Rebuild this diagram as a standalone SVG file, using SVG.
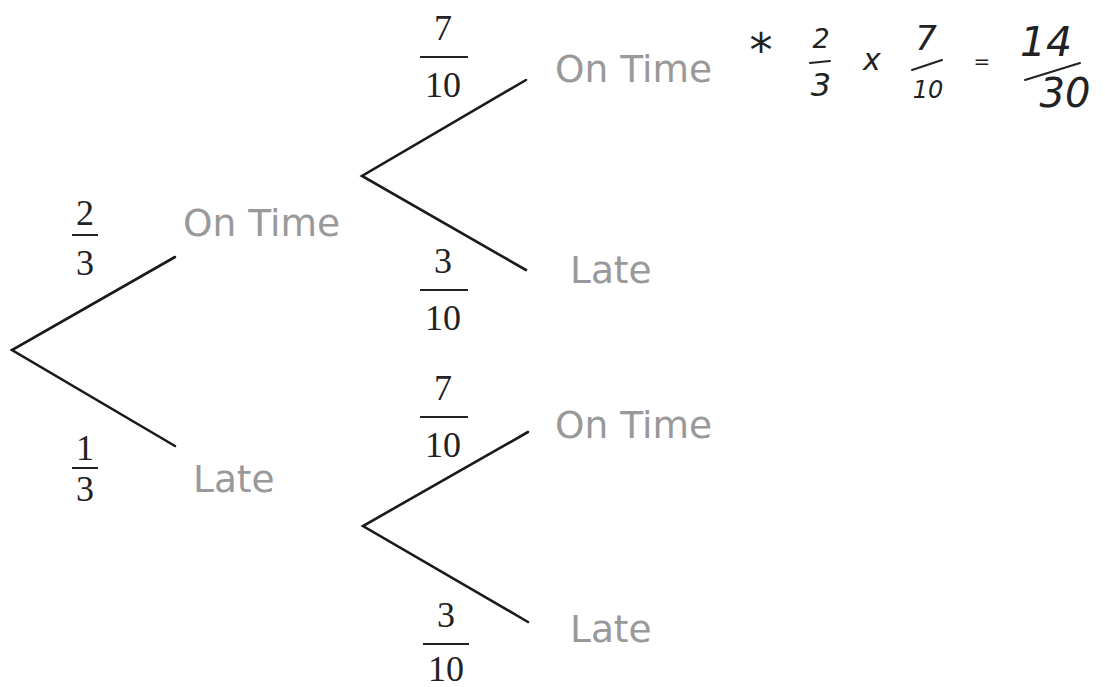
<svg xmlns="http://www.w3.org/2000/svg" width="1105" height="687" viewBox="0 0 1105 687">
<style>
.br{stroke:#1a1a1a;stroke-width:2.6;fill:none;stroke-linecap:round}
.bar{stroke:#222;stroke-width:2;fill:none}
.num{font-family:"Liberation Serif",serif;font-size:36px;fill:#222;text-anchor:middle}
.lbl{font-family:"DejaVu Sans",sans-serif;font-size:37.5px;fill:#999}
.hw{font-family:"DejaVu Sans",sans-serif;font-style:italic;font-weight:300;fill:#222;text-anchor:middle}
.hs{stroke:#222;stroke-width:2;fill:none;stroke-linecap:round}
</style>
<rect width="1105" height="687" fill="#fff"/>
<g id="connectors">
<path class="br" d="M175,257 L12,350 L175,446"/>
<path class="br" d="M526,80 L362,176 L526,270"/>
<path class="br" d="M528,432 L363,526 L528,622"/>
</g>
<g id="n-root-ontime"><text class="lbl" x="183" y="236">On Time</text></g>
<g id="n-root-late"><text class="lbl" x="193" y="492">Late</text></g>
<g id="n-ot-ontime"><text class="lbl" x="555" y="82">On Time</text></g>
<g id="n-ot-late"><text class="lbl" x="570" y="283">Late</text></g>
<g id="n-late-ontime"><text class="lbl" x="555" y="438">On Time</text></g>
<g id="n-late-late"><text class="lbl" x="570" y="642">Late</text></g>
<g id="p-2-3"><text class="num" x="85" y="225">2</text><line class="bar" x1="72" y1="235" x2="98" y2="235"/><text class="num" x="85" y="275">3</text></g>
<g id="p-1-3"><text class="num" x="85" y="460">1</text><line class="bar" x1="72" y1="468" x2="98" y2="468"/><text class="num" x="85" y="501">3</text></g>
<g id="p-7-10a"><text class="num" x="443" y="40">7</text><line class="bar" x1="420" y1="57" x2="468" y2="57"/><text class="num" x="443" y="97">10</text></g>
<g id="p-3-10a"><text class="num" x="443" y="273">3</text><line class="bar" x1="420" y1="290" x2="468" y2="290"/><text class="num" x="443" y="330">10</text></g>
<g id="p-7-10b"><text class="num" x="443" y="400">7</text><line class="bar" x1="420" y1="417" x2="468" y2="417"/><text class="num" x="443" y="457">10</text></g>
<g id="p-3-10b"><text class="num" x="446" y="627">3</text><line class="bar" x1="423" y1="644" x2="469" y2="644"/><text class="num" x="446" y="681">10</text></g>
<g id="calc">
<text class="hw" x="761" y="66" font-size="46">*</text>
<text class="hw" x="821" y="48" font-size="27">2</text>
<line class="hs" x1="810" y1="63" x2="830" y2="61"/>
<text class="hw" x="821" y="96" font-size="32">3</text>
<text class="hw" x="872" y="70" font-size="30">x</text>
<text class="hw" x="926" y="50" font-size="34">7</text>
<line class="hs" x1="912" y1="70" x2="942" y2="60"/>
<text class="hw" x="928" y="98" font-size="24">10</text>
<text class="hw" x="982" y="68" font-size="20">=</text>
<text class="hw" x="1046" y="56" font-size="41">14</text>
<line class="hs" x1="1025" y1="80" x2="1080" y2="63"/>
<text class="hw" x="1065" y="107" font-size="40">30</text>
</g>
</svg>
